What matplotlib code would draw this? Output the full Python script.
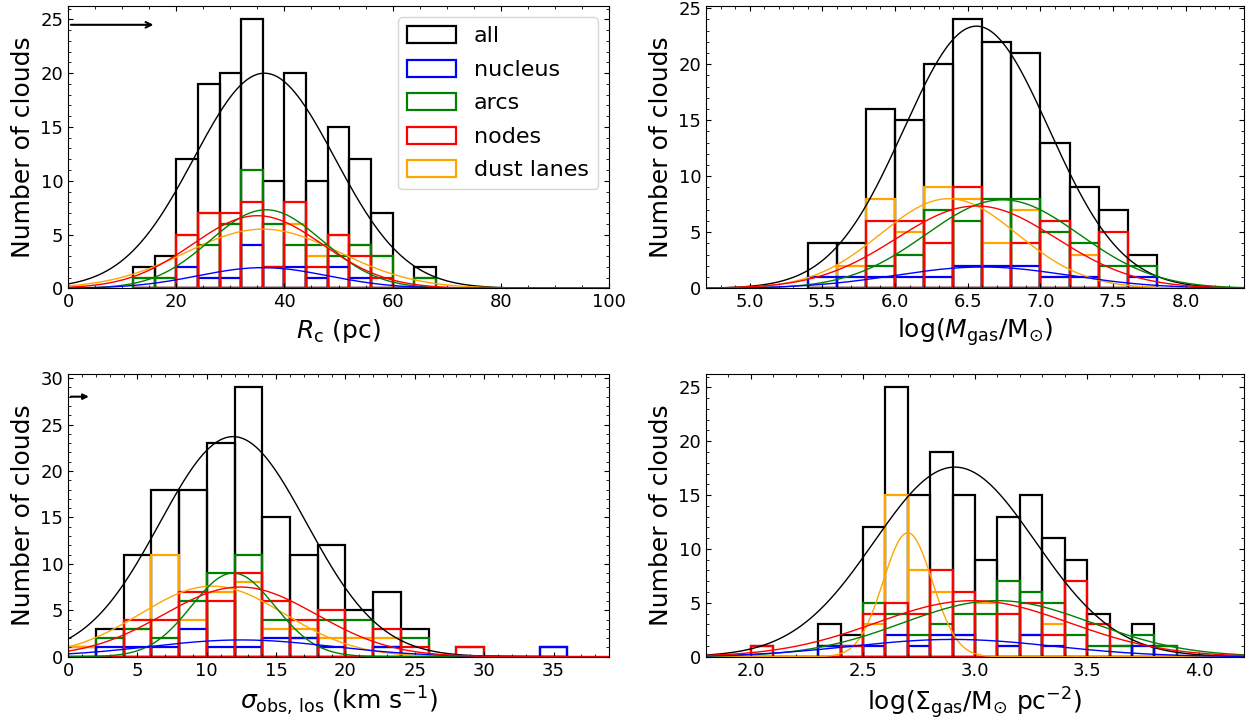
import numpy as np
import matplotlib
matplotlib.use('Agg')
import matplotlib.pyplot as plt
from matplotlib.ticker import AutoMinorLocator

# category names / colours (draw order differs from legend order)
names = ['all', 'nucleus', 'arcs', 'nodes', 'dust lanes']
colors = {'all': 'k', 'nucleus': 'blue', 'arcs': 'green', 'nodes': 'red', 'dust lanes': 'orange'}
draw_order = ['all', 'dust lanes', 'arcs', 'nucleus', 'nodes']

# ---- panel 1: cloud radius (pc)
rc_edges = np.arange(12, 69, 4)
rc_all = [2, 3, 12, 19, 20, 25, 10, 20, 10, 15, 12, 7, 0, 2]
rc_nucleus = [0, 0, 2, 1, 1, 4, 2, 2, 1, 2, 1, 0, 0, 0]
rc_arcs = [1, 1, 0, 4, 6, 11, 6, 4, 4, 3, 4, 3, 0, 1]
rc_nodes = [0, 0, 5, 7, 7, 8, 2, 8, 2, 5, 3, 1, 0, 0]
rc_dust = [1, 1, 5, 7, 6, 0, 0, 6, 3, 5, 4, 3, 0, 1]
# gaussian fits: amplitude, mean, sigma
rc_fit = {'all': (20.0, 36.3, 13.0), 'nucleus': (1.92, 36.0, 12.0), 'arcs': (7.3, 36.6, 10.4),
          'nodes': (6.75, 35.0, 12.0), 'dust lanes': (5.5, 36.0, 14.2)}
rc_arrow = 16.3

# ---- panel 2: log gas mass
mg_edges = np.round(np.arange(5.4, 7.81, 0.2), 2)
mg_all = [4, 4, 16, 15, 20, 24, 22, 21, 13, 9, 7, 3]
mg_nucleus = [1, 1, 1, 1, 1, 2, 2, 2, 1, 1, 0, 1]
mg_arcs = [0, 0, 2, 3, 7, 6, 8, 8, 5, 4, 2, 2]
mg_nodes = [0, 0, 6, 6, 4, 9, 0, 4, 6, 0, 5, 0]
mg_dust = [0, 2, 8, 5, 9, 8, 4, 7, 1, 3, 0, 0]
mg_fit = {'all': (23.4, 6.56, 0.50), 'nucleus': (1.9, 6.6, 0.6), 'arcs': (7.9, 6.74, 0.53),
          'nodes': (7.35, 6.56, 0.55), 'dust lanes': (8.0, 6.37, 0.47)}

# ---- panel 3: velocity dispersion (km/s)
sg_edges = np.arange(0, 37, 2)
sg_all = [1, 3, 11, 18, 18, 23, 29, 15, 11, 12, 5, 7, 3, 0, 1, 0, 0, 1]
sg_nucleus = [0, 1, 1, 1, 3, 1, 1, 2, 2, 1, 0, 1, 0, 0, 0, 0, 0, 1]
sg_arcs = [0, 2, 3, 2, 6, 9, 11, 4, 2, 4, 4, 1, 2, 0, 0, 0, 0, 0]
sg_nodes = [0, 0, 4, 4, 7, 6, 9, 6, 4, 5, 0, 3, 1, 0, 1, 0, 0, 0]
sg_dust = [1, 0, 3, 11, 4, 7, 8, 3, 3, 2, 2, 2, 0, 0, 0, 0, 0, 0]
sg_fit = {'all': (23.7, 11.9, 5.3), 'nucleus': (1.8, 12.5, 6.6), 'arcs': (9.0, 11.9, 3.0),
          'nodes': (7.5, 12.4, 5.5), 'dust lanes': (7.6, 10.4, 5.2)}
sg_arrow = 1.7

# ---- panel 4: log gas surface density
sd_edges = np.round(np.arange(2.0, 3.91, 0.1), 2)
sd_all = [1, 0, 0, 3, 2, 12, 25, 15, 19, 15, 9, 13, 15, 11, 9, 4, 1, 3, 1]
sd_nucleus = [0, 0, 0, 1, 1, 1, 2, 1, 2, 2, 0, 1, 2, 1, 0, 0, 0, 1, 0]
sd_arcs = [0, 0, 0, 1, 0, 5, 4, 2, 3, 4, 4, 7, 6, 5, 2, 1, 1, 2, 1]
sd_nodes = [1, 0, 0, 0, 1, 4, 5, 4, 8, 6, 0, 4, 5, 2, 7, 3, 0, 0, 0]
sd_dust = [0, 0, 0, 1, 0, 3, 15, 8, 6, 2, 5, 1, 2, 3, 0, 0, 0, 0, 0]
sd_fit = {'all': (17.6, 2.91, 0.36), 'nucleus': (1.6, 2.9, 0.45), 'arcs': (5.2, 3.10, 0.42),
          'nodes': (5.2, 2.99, 0.43), 'dust lanes': (11.5, 2.70, 0.11)}


def gauss(x, a, m, s):
    return a * np.exp(-(x - m)**2 / (2 * s**2))


def panel(ax, edges, counts, fits, xlim, xlabel):
    for name in draw_order:
        ax.hist(edges[:-1], bins=edges, weights=counts[name], histtype='bar', fill=False,
                edgecolor=colors[name], linewidth=1.6, label=name)
    xx = np.linspace(xlim[0], xlim[1], 500)
    for name in draw_order:
        ax.plot(xx, gauss(xx, *fits[name]), color=colors[name], lw=1.0)
    ax.set_xlim(xlim)
    ax.set_ylim(0, max(counts['all']) * 1.05)
    ax.set_xlabel(xlabel, fontsize=18)
    ax.set_ylabel('Number of clouds', fontsize=18)
    ax.xaxis.set_minor_locator(AutoMinorLocator())
    ax.yaxis.set_minor_locator(AutoMinorLocator())
    ax.tick_params(which='both', direction='in', top=True, right=True, labelsize=13)


fig = plt.figure(figsize=(12.58, 7.22), dpi=100)
ax1 = fig.add_axes([0.0541, 0.6007, 0.430, 0.391])
ax2 = fig.add_axes([0.5612, 0.6007, 0.4277, 0.391])
ax3 = fig.add_axes([0.0541, 0.0905, 0.430, 0.3916])
ax4 = fig.add_axes([0.5612, 0.0905, 0.4277, 0.3916])

panel(ax1, rc_edges, dict(zip(names, [rc_all, rc_nucleus, rc_arcs, rc_nodes, rc_dust])),
      rc_fit, (0, 100), r'$R_{\rm c}$ (pc)')
panel(ax2, mg_edges, dict(zip(names, [mg_all, mg_nucleus, mg_arcs, mg_nodes, mg_dust])),
      mg_fit, (4.7, 8.4), r'log($M_{\rm gas}$/M$_{\odot}$)')
panel(ax3, sg_edges, dict(zip(names, [sg_all, sg_nucleus, sg_arcs, sg_nodes, sg_dust])),
      sg_fit, (0, 39), r'$\sigma_{\rm obs,\,los}$ (km s$^{-1}$)')
panel(ax4, sd_edges, dict(zip(names, [sd_all, sd_nucleus, sd_arcs, sd_nodes, sd_dust])),
      sd_fit, (1.8, 4.2), r'log($\Sigma_{\rm gas}$/M$_{\odot}$ pc$^{-2}$)')

# resolution arrows
ax1.annotate('', xy=(rc_arrow, 24.5), xytext=(0, 24.5),
             arrowprops=dict(arrowstyle='->', color='k', lw=1.5))
ax3.annotate('', xy=(sg_arrow, 28), xytext=(0, 28),
             arrowprops=dict(arrowstyle='-|>', color='k', lw=1.5, mutation_scale=8))

handles, labels = ax1.get_legend_handles_labels()
hd = dict(zip(labels, handles))
ax1.legend([hd[n] for n in names], names, loc='upper right', fontsize=16,
           handlelength=2.2, handleheight=0.8, labelspacing=0.6)

fig.savefig('out.png', dpi=100)
